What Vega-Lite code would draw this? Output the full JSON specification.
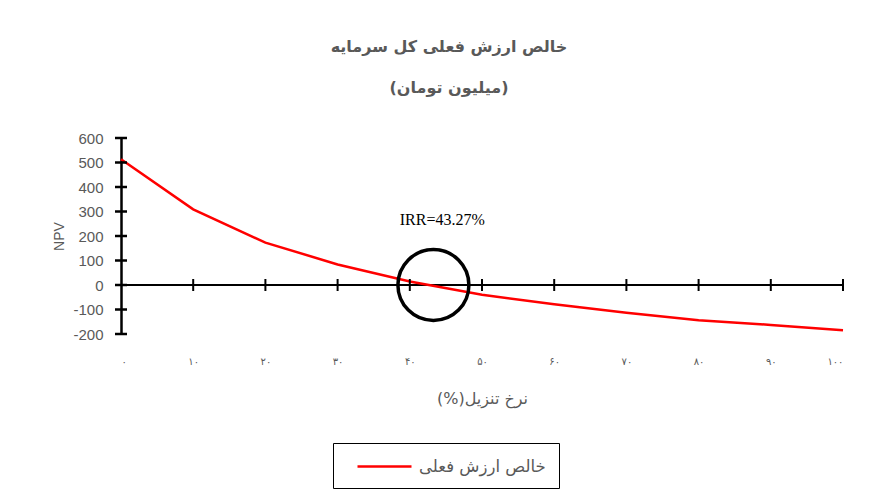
{
  "$schema": "https://vega.github.io/schema/vega-lite/v6.json",
  "width": 722,
  "height": 196,
  "autosize": "none",
  "padding": {"left": 121, "top": 138, "right": 31, "bottom": 163},
  "background": "white",
  "config": {"view": {"stroke": null}, "font": "DejaVu Sans"},
  "title": {
    "text": ["خالص ارزش فعلی کل سرمایه", "(میلیون تومان)"],
    "fontSize": 16,
    "fontWeight": "bold",
    "color": "#595959",
    "lineHeight": 41,
    "anchor": "middle",
    "dx": -33,
    "offset": 35
  },
  "datasets": {
    "npv": [
      {"rate": 0, "npv": 513, "series": "خالص ارزش فعلی"},
      {"rate": 10, "npv": 309, "series": "خالص ارزش فعلی"},
      {"rate": 20, "npv": 173, "series": "خالص ارزش فعلی"},
      {"rate": 30, "npv": 84, "series": "خالص ارزش فعلی"},
      {"rate": 40, "npv": 14, "series": "خالص ارزش فعلی"},
      {"rate": 50, "npv": -40, "series": "خالص ارزش فعلی"},
      {"rate": 60, "npv": -79, "series": "خالص ارزش فعلی"},
      {"rate": 70, "npv": -113, "series": "خالص ارزش فعلی"},
      {"rate": 80, "npv": -144, "series": "خالص ارزش فعلی"},
      {"rate": 90, "npv": -163, "series": "خالص ارزش فعلی"},
      {"rate": 100, "npv": -185, "series": "خالص ارزش فعلی"}
    ],
    "zero": [{"rate": 0, "rate2": 100, "npv": 0}],
    "xticks": [{"rate": 10, "npv": 0}, {"rate": 20, "npv": 0}, {"rate": 30, "npv": 0}, {"rate": 40, "npv": 0}, {"rate": 50, "npv": 0}, {"rate": 60, "npv": 0}, {"rate": 70, "npv": 0}, {"rate": 80, "npv": 0}, {"rate": 90, "npv": 0}, {"rate": 100, "npv": 0}],
    "yticks": [{"rate": 0, "npv": -200}, {"rate": 0, "npv": -100}, {"rate": 0, "npv": 0}, {"rate": 0, "npv": 100}, {"rate": 0, "npv": 200}, {"rate": 0, "npv": 300}, {"rate": 0, "npv": 400}, {"rate": 0, "npv": 500}, {"rate": 0, "npv": 600}],
    "irr": [{"rate": 43.27, "npv": 0}],
    "irrlabel": [{"rate": 44.5, "npv": 265, "label": "IRR=43.27%"}]
  },
  "encoding": {
    "x": {
      "field": "rate",
      "type": "quantitative",
      "scale": {"domain": [0, 100], "nice": false},
      "axis": {
        "values": [0, 10, 20, 30, 40, 50, 60, 70, 80, 90, 100],
        "domain": false,
        "ticks": false,
        "grid": false,
        "labelExpr": "replace(replace(replace(replace(replace(replace(replace(replace(replace(replace(datum.label,regexp('0','g'),'۰'),regexp('1','g'),'۱'),regexp('2','g'),'۲'),regexp('3','g'),'۳'),regexp('4','g'),'۴'),regexp('5','g'),'۵'),regexp('6','g'),'۶'),regexp('7','g'),'۷'),regexp('8','g'),'۸'),regexp('9','g'),'۹')",
        "labelFontSize": 10,
        "labelColor": "#595959",
        "labelPadding": 22,
        "labelFont": "DejaVu Sans",
        "title": "نرخ تنزیل(%)‏",
        "titleFont": "DejaVu Sans",
        "titleFontSize": 16,
        "titleFontWeight": "normal",
        "titleColor": "#595959",
        "titlePadding": 24
      }
    },
    "y": {
      "field": "npv",
      "type": "quantitative",
      "scale": {"domain": [-200, 600], "nice": false},
      "axis": {
        "values": [-200, -100, 0, 100, 200, 300, 400, 500, 600],
        "labelExpr": "datum.value + ''",
        "labelOverlap": false,
        "domain": true,
        "domainColor": "black",
        "domainWidth": 2.5,
        "ticks": false,
        "grid": false,
        "labelFont": "Liberation Sans",
        "labelFontSize": 15,
        "labelColor": "#595959",
        "labelPadding": 18,
        "title": "NPV",
        "titleFont": "Liberation Sans",
        "titleFontSize": 14,
        "titleFontWeight": "normal",
        "titleColor": "#595959",
        "titlePadding": 6
      }
    }
  },
  "layer": [
    {
      "data": {"name": "zero"},
      "mark": {"type": "rule", "color": "black", "strokeWidth": 2},
      "encoding": {"x2": {"field": "rate2"}}
    },
    {
      "data": {"name": "npv"},
      "mark": {"type": "line", "color": "red", "strokeWidth": 2.5},
      "encoding": {
        "color": {
          "field": "series",
          "type": "nominal",
          "scale": {"range": ["red"]},
          "legend": {
            "orient": "none",
            "legendX": 212,
            "legendY": 305,
            "title": null,
            "symbolType": "M-3,0H3",
            "symbolSize": 324,
            "symbolStrokeWidth": 2.5,
            "symbolOffset": 28,
            "labelOffset": 24,
            "labelFont": "DejaVu Sans",
            "labelFontSize": 16.5,
            "labelColor": "#595959",
            "strokeColor": "black",
            "padding": 13
          }
        }
      }
    },
    {
      "data": {"name": "xticks"},
      "mark": {"type": "tick", "orient": "vertical", "color": "black", "thickness": 2, "size": 12, "opacity": 1}
    },
    {
      "data": {"name": "yticks"},
      "mark": {"type": "tick", "orient": "horizontal", "color": "black", "thickness": 2.5, "size": 12, "opacity": 1}
    },
    {
      "data": {"name": "irr"},
      "mark": {"type": "point", "shape": "circle", "filled": false, "stroke": "black", "strokeWidth": 3.5, "size": 5041, "opacity": 1}
    },
    {
      "data": {"name": "irrlabel"},
      "mark": {"type": "text", "font": "Liberation Serif", "fontSize": 16, "color": "black", "baseline": "middle", "align": "center"},
      "encoding": {"text": {"field": "label"}}
    }
  ]
}
